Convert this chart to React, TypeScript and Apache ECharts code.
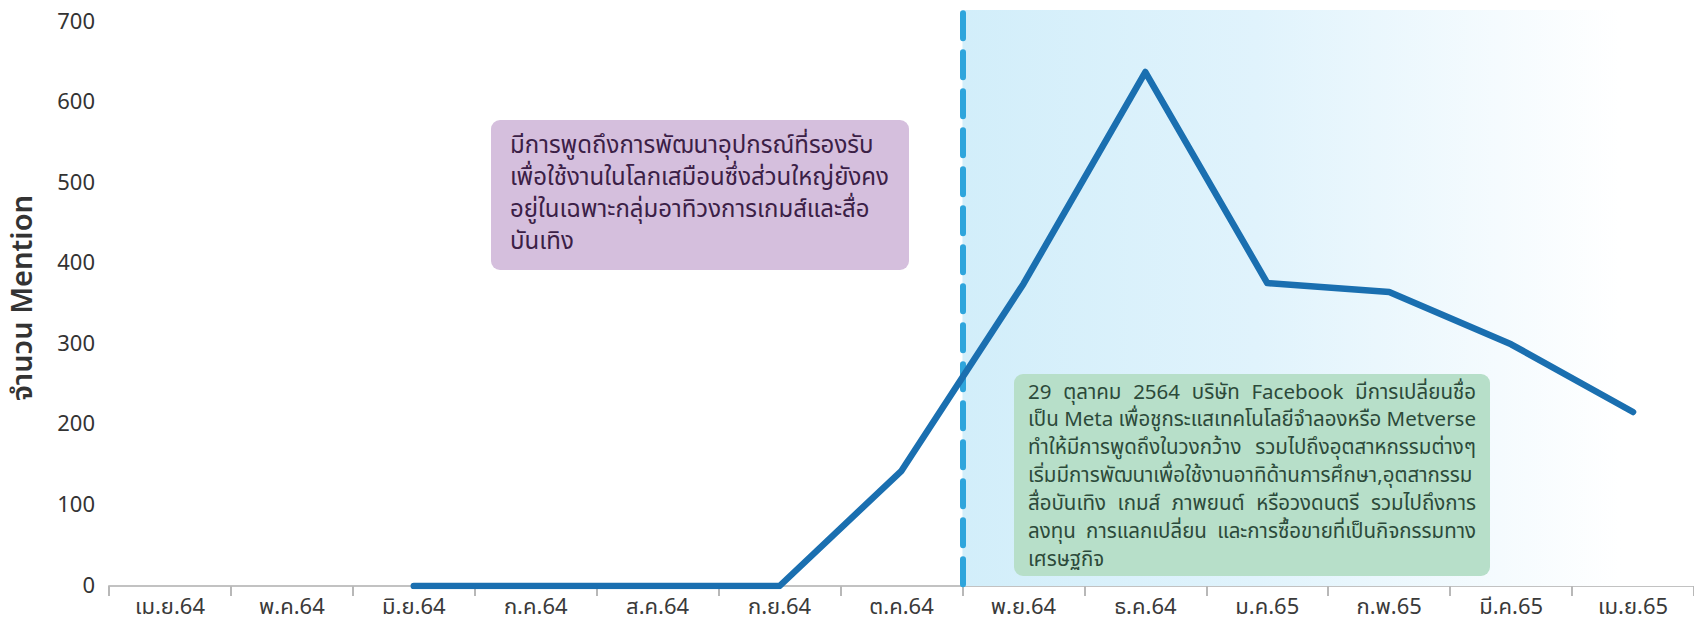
import React, { useEffect, useRef } from "react";
import * as echarts from "echarts";

const categories = ["เม.ย.64", "พ.ค.64", "มิ.ย.64", "ก.ค.64", "ส.ค.64", "ก.ย.64", "ต.ค.64", "พ.ย.64", "ธ.ค.64", "ม.ค.65", "ก.พ.65", "มี.ค.65", "เม.ย.65"];
const mentions: (number | null)[] = [null, null, 0, 0, 0, 0, 143, 375, 638, 376, 365, 300, 216];
const yMin = 0;
const yMax = 715;
const yInterval = 100;
const eventBoundary = 7; // boundary between ต.ค.64 and พ.ย.64
const yAxisTitle = "จำนวน Mention";

const noteBefore = [
  "มีการพูดถึงการพัฒนาอุปกรณ์ที่รองรับ",
  "เพื่อใช้งานในโลกเสมือนซึ่งส่วนใหญ่ยังคง",
  "อยู่ในเฉพาะกลุ่มอาทิวงการเกมส์และสื่อ",
  "บันเทิง",
];
const noteAfter = [
  "29 ตุลาคม 2564 บริษัท Facebook มีการเปลี่ยนชื่อ",
  "เป็น Meta เพื่อชูกระแสเทคโนโลยีจำลองหรือ Metverse",
  "ทำให้มีการพูดถึงในวงกว้าง รวมไปถึงอุตสาหกรรมต่างๆ",
  "เริ่มมีการพัฒนาเพื่อใช้งานอาทิด้านการศึกษา,อุตสากรรม",
  "สื่อบันเทิง เกมส์ ภาพยนต์ หรือวงดนตรี รวมไปถึงการ",
  "ลงทุน การแลกเปลี่ยน และการซื้อขายที่เป็นกิจกรรมทาง",
  "เศรษฐกิจ",
];

const FONT = "'Noto Sans Thai', 'Noto Sans', sans-serif";

function noteLines(lines: string[], x: number, y0: number, lh: number, size: number, fill: string) {
  return lines.map((t, i) => ({
    type: "text",
    x,
    y: y0 + i * lh,
    z: 101,
    style: { text: t, fontSize: size, fill, fontFamily: FONT, verticalAlign: "middle" },
  }));
}

function justifiedLines(lines: string[], x: number, y0: number, lh: number, size: number, fill: string, width: number) {
  const canvas = document.createElement("canvas");
  const ctx = canvas.getContext("2d");
  const out: any[] = [];
  lines.forEach((t, i) => {
    const words = t.split(" ");
    const y = y0 + i * lh;
    const isLast = i === lines.length - 1;
    if (!ctx || words.length < 2 || isLast) {
      out.push({ type: "text", x, y, z: 101, style: { text: t, fontSize: size, fill, fontFamily: FONT, verticalAlign: "middle" } });
      return;
    }
    ctx.font = `${size}px ${FONT}`;
    const widths = words.map((w) => ctx.measureText(w).width);
    const total = widths.reduce((a, b) => a + b, 0);
    const gap = Math.max((width - total) / (words.length - 1), size * 0.25);
    let cx = x;
    words.forEach((w, k) => {
      out.push({ type: "text", x: cx, y, z: 101, style: { text: w, fontSize: size, fill, fontFamily: FONT, verticalAlign: "middle" } });
      cx += widths[k] + gap;
    });
  });
  return out;
}

export default function App() {
  const ref = useRef<HTMLDivElement>(null);
  useEffect(() => {
    if (!ref.current) return;
    const chart = echarts.init(ref.current, null, { renderer: "svg" });
    const option: any = {
      animation: false,
      backgroundColor: "#ffffff",
      textStyle: { fontFamily: FONT },
      grid: { left: 105, top: 10, width: 1598, height: 576 },
      xAxis: [
        {
          type: "category",
          data: categories,
          boundaryGap: true,
          axisLine: { lineStyle: { color: "#c2c2c2", width: 2 } },
          axisTick: { show: true, length: 10, lineStyle: { color: "#b8b8b8", width: 2 } },
          axisLabel: { color: "#3a3a3a", fontSize: 22, margin: 10, fontFamily: FONT },
          splitLine: { show: false },
        },
        {
          type: "value",
          min: 0,
          max: categories.length,
          show: false,
        },
      ],
      yAxis: {
        type: "value",
        min: yMin,
        max: yMax,
        interval: yInterval,
        name: yAxisTitle,
        nameLocation: "middle",
        nameGap: 72,
        nameTextStyle: { fontSize: 29, fontWeight: 600, color: "#333333", fontFamily: FONT },
        axisLine: { show: false },
        axisTick: { show: false },
        splitLine: { show: false },
        axisLabel: { color: "#333333", fontSize: 22, margin: 14, showMaxLabel: false, fontFamily: FONT },
      },
      series: [
        {
          type: "line",
          xAxisIndex: 1,
          data: [],
          z: 0,
          silent: true,
          markArea: {
            silent: true,
            itemStyle: {
              color: new echarts.graphic.LinearGradient(0, 0, 1, 0, [
                { offset: 0, color: "#d2eefa" },
                { offset: 0.4, color: "#e0f3fc" },
                { offset: 0.9, color: "#ffffff" },
                { offset: 1, color: "#ffffff" },
              ]),
            },
            data: [[{ coord: [eventBoundary, yMin] }, { coord: [categories.length, yMax] }]],
          },
        },
        {
          type: "line",
          xAxisIndex: 1,
          data: [],
          z: 2,
          silent: true,
          markLine: {
            silent: true,
            symbol: ["none", "none"],
            label: { show: false },
            lineStyle: { color: "#2ea5dc", width: 6, type: [25, 14], cap: "round" },
            data: [[{ coord: [eventBoundary, 711] }, { coord: [eventBoundary, yMin] }]],
          },
        },
        {
          type: "line",
          name: "Mention",
          data: mentions,
          z: 10,
          symbol: "none",
          connectNulls: false,
          lineStyle: { color: "#1a6fb0", width: 6.5, join: "round", cap: "round" },
        },
      ],
      graphic: [
        {
          type: "rect",
          x: 491,
          y: 120,
          z: 100,
          shape: { x: 0, y: 0, width: 418, height: 150, r: 9 },
          style: { fill: "#d5bfdd" },
        },
        ...noteLines(noteBefore, 510, 146, 32, 24, "#3b2046"),
        {
          type: "rect",
          x: 1014,
          y: 374,
          z: 100,
          shape: { x: 0, y: 0, width: 476, height: 202, r: 9 },
          style: { fill: "#b7dfc9" },
        },
        ...justifiedLines(noteAfter, 1028, 392, 27.9, 20.5, "#2c4a3a", 448),
      ],
    };
    chart.setOption(option);
    return () => chart.dispose();
  }, []);
  return <div ref={ref} style={{ position: "absolute", left: 0, top: 0, width: 1694, height: 626 }} />;
}
